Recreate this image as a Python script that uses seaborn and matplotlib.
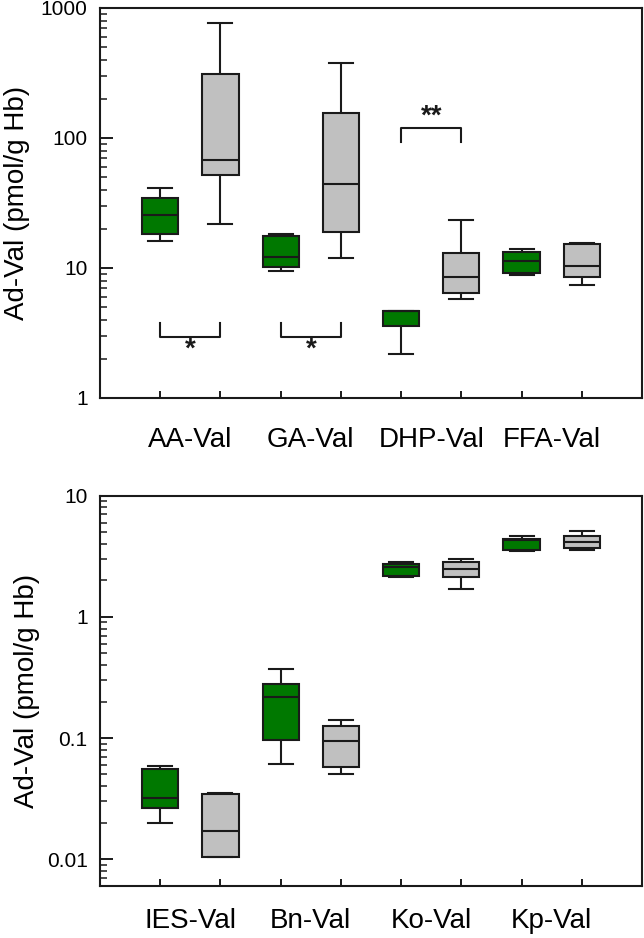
import numpy as np
import pandas as pd
import matplotlib
matplotlib.use('Agg')
import matplotlib.pyplot as plt
import seaborn as sns

# five-number summaries: [min, Q1, median, Q3, max]
groups = ['control', 'exposed']
top_cats = ['AA-Val', 'GA-Val', 'DHP-Val', 'FFA-Val']
top_control = [
    [16.2, 18.4, 25.7, 34.7, 41.5],
    [9.5, 10.1, 12.2, 17.7, 18.2],
    [2.18, 3.58, 4.64, 4.64, 4.64],
    [8.8, 9.2, 11.3, 13.3, 14.0],
]
top_exposed = [
    [21.9, 52.0, 68.0, 309.0, 762.0],
    [11.9, 19.0, 44.3, 155.0, 380.0],
    [5.78, 6.46, 8.53, 13.1, 23.4],
    [7.44, 8.58, 10.4, 15.2, 15.5],
]
bottom_cats = ['IES-Val', 'Bn-Val', 'Ko-Val', 'Kp-Val']
bottom_control = [
    [0.0199, 0.0266, 0.0322, 0.0555, 0.0583],
    [0.0606, 0.0969, 0.220, 0.281, 0.371],
    [2.15, 2.19, 2.57, 2.72, 2.84],
    [3.48, 3.55, 4.31, 4.39, 4.63],
]
bottom_exposed = [
    [0.0105, 0.0105, 0.0170, 0.0345, 0.0354],
    [0.050, 0.0577, 0.095, 0.1255, 0.141],
    [1.70, 2.12, 2.50, 2.82, 3.03],
    [3.59, 3.73, 4.13, 4.63, 5.12],
]

# significance brackets: (category index, bracket level, tick level, star level, label)
top_brackets = [
    (0, 2.96, 3.76, 2.34, '*'),
    (1, 2.96, 3.76, 2.34, '*'),
    (2, 120.0, 93.7, 146.0, '**'),
]

palette = {'control': '#007800', 'exposed': '#c0c0c0'}


def to_frame(cats, control, exposed):
    rows = []
    for cat, c, e in zip(cats, control, exposed):
        for v in c:
            rows.append((cat, 'control', v))
        for v in e:
            rows.append((cat, 'exposed', v))
    return pd.DataFrame(rows, columns=['adduct', 'group', 'value'])


plt.rcParams['font.family'] = ['Liberation Sans', 'DejaVu Sans']

fig = plt.figure(figsize=(6.44, 9.38), dpi=100)
ax1 = fig.add_axes([0.1553, 0.5757, 0.8416, 0.4158])
ax2 = fig.add_axes([0.1553, 0.0554, 0.8416, 0.4161])

line_kws = dict(color='#1a1a1a', linewidth=1.5)

for ax, cats, ctl, exp, ylim, xpad, ypad in [
    (ax1, top_cats, top_control, top_exposed, (1, 1000), 21, 8),
    (ax2, bottom_cats, bottom_control, bottom_exposed, (0.006, 10), 16, 5),
]:
    df = to_frame(cats, ctl, exp)
    sns.boxplot(data=df, x='adduct', y='value', hue='group', order=cats,
                hue_order=groups, palette=palette, width=1.0, gap=0.4,
                whis=np.inf, log_scale=True, linecolor='#1a1a1a',
                linewidth=1.5, saturation=1, legend=False, ax=ax,
                capwidths=0.2)
    ax.set_ylim(*ylim)
    ax.set_xlim(-0.75, 3.75)
    ax.set_xlabel('')
    ax.set_ylabel('Ad-Val (pmol/g Hb)', fontsize=20, labelpad=ypad)
    ax.set_xticks(range(len(cats)))
    ax.set_xticklabels(cats, fontsize=20)
    ax.tick_params(axis='x', which='major', length=0, pad=xpad)
    ax.set_xticks([i + d for i in range(len(cats)) for d in (-0.25, 0.25)],
                  minor=True)
    ax.tick_params(axis='x', which='minor', direction='in', length=5,
                   width=1.4, color='#1a1a1a')
    ax.tick_params(axis='y', which='major', direction='in', length=9,
                   width=1.4, labelsize=15, pad=9, color='#1a1a1a')
    ax.tick_params(axis='y', which='minor', direction='in', length=5,
                   width=1.1, color='#1a1a1a')
    ax.yaxis.set_major_formatter(matplotlib.ticker.FuncFormatter(
        lambda v, p: ('%g' % v)))
    ax.yaxis.set_minor_formatter(matplotlib.ticker.NullFormatter())
    for s in ax.spines.values():
        s.set_color('#1a1a1a')
        s.set_linewidth(1.5)

for i, level, tick, star, label in top_brackets:
    xs = [i - 0.25, i - 0.25, i + 0.25, i + 0.25]
    ys = [tick, level, level, tick]
    ax1.plot(xs, ys, **line_kws)
    ax1.text(i, star, label, ha='center', va='center', fontsize=20,
             fontweight='bold', color='#1a1a1a')

fig.savefig('out.png', dpi=100)
